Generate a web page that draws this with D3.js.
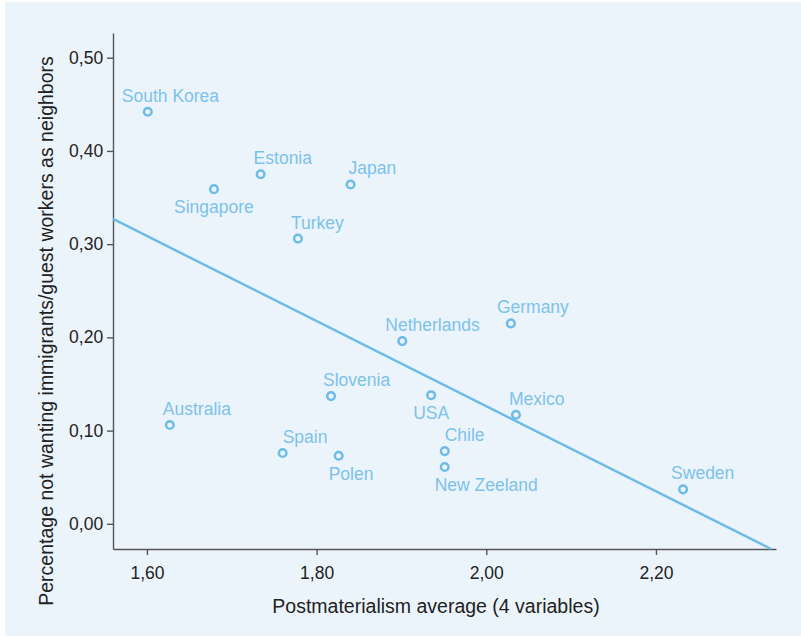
<!DOCTYPE html>
<html>
<head>
<meta charset="utf-8">
<script src="https://cdn.jsdelivr.net/npm/d3@7"></script>
<style>
  body { margin: 0; background: #fff; }
  svg text { font-family: "Liberation Sans", Arial, sans-serif; }
</style>
</head>
<body>
<div id="scatter"></div>
<script>
// data
var countries = ["South Korea", "Singapore", "Estonia", "Japan", "Turkey", "Netherlands", "Germany",
  "Slovenia", "USA", "Mexico", "Australia", "Spain", "Polen", "Chile", "New Zeeland", "Sweden"];
var postmat = [1.601, 1.679, 1.734, 1.840, 1.778, 1.901, 2.029,
  1.817, 1.935, 2.035, 1.627, 1.760, 1.826, 1.951, 1.951, 2.232];
var notWanting = [0.442, 0.359, 0.375, 0.364, 0.306, 0.196, 0.215,
  0.137, 0.138, 0.117, 0.106, 0.076, 0.073, 0.078, 0.061, 0.037];
var xTicks = [1.6, 1.8, 2.0, 2.2];
var yTicks = [0, 0.1, 0.2, 0.3, 0.4, 0.5];
var fitIntercept = 1.039;
var fitSlope = -0.4564;

// label placement (start offset from point, above or below)
var labelDx = [-26, -40, -7, -2, -7, -17, -14, -8, -18, -7, -7, 0, -10, 0, -10, -12];
var labelBelow = [false, true, false, false, false, false, false,
  false, true, false, false, false, true, false, true, false];

var svgWidth = 801;
var svgHeight = 637;

var margin = { top: 33, right: 25, bottom: 88, left: 113 };
var width = svgWidth - margin.left - margin.right;
var height = svgHeight - margin.top - margin.bottom;

var svg = d3.select("#scatter")
  .append("svg")
  .attr("width", svgWidth)
  .attr("height", svgHeight);

svg.append("rect")
  .attr("x", 5)
  .attr("y", 2)
  .attr("width", svgWidth - 5)
  .attr("height", svgHeight - 3)
  .attr("fill", "#ecf4fb");

var chartGroup = svg.append("g")
  .attr("transform", `translate(${margin.left}, ${margin.top})`);

var xScale = d3.scaleLinear().domain([1.56, 2.3415]).range([0, width]);
var yScale = d3.scaleLinear().domain([-0.027, 0.5265]).range([height, 0]);

var fmt = d => d.toFixed(2).replace(".", ",");

var xAxis = chartGroup.append("g")
  .attr("transform", `translate(0, ${height})`)
  .call(d3.axisBottom(xScale).tickValues(xTicks).tickFormat(fmt).tickSize(6).tickSizeOuter(0));

var yAxis = chartGroup.append("g")
  .call(d3.axisLeft(yScale).tickValues(yTicks).tickFormat(fmt).tickSize(6).tickSizeOuter(0));

[xAxis, yAxis].forEach(function(ax) {
  ax.selectAll("path, line").attr("stroke", "#555").attr("stroke-width", 1.4);
  ax.selectAll("text")
    .attr("fill", "#222")
    .style("font-size", "17.5px")
    .style("font-family", "'Liberation Sans', Arial, sans-serif");
});
xAxis.selectAll("text").attr("dy", "1.2em");
yAxis.selectAll("text").attr("dx", "-0.05em");

// regression line
var x0 = xScale.domain()[0];
var x1 = (yScale.domain()[0] - fitIntercept) / fitSlope;
chartGroup.append("line")
  .attr("x1", xScale(x0))
  .attr("y1", yScale(fitIntercept + fitSlope * x0))
  .attr("x2", xScale(x1))
  .attr("y2", yScale(fitIntercept + fitSlope * x1))
  .attr("stroke", "#6dbbe8")
  .attr("stroke-width", 2.5);

var pts = countries.map((c, i) => ({ name: c, x: postmat[i], y: notWanting[i], dx: labelDx[i], below: labelBelow[i] }));

chartGroup.selectAll("circle")
  .data(pts)
  .enter()
  .append("circle")
  .attr("cx", d => xScale(d.x))
  .attr("cy", d => yScale(d.y))
  .attr("r", 3.8)
  .attr("fill", "#ecf4fb")
  .attr("stroke", "#6dbbe8")
  .attr("stroke-width", 2.5);

chartGroup.selectAll(".label")
  .data(pts)
  .enter()
  .append("text")
  .attr("class", "label")
  .attr("x", d => xScale(d.x) + d.dx)
  .attr("y", d => yScale(d.y) + (d.below ? 24 : -10))
  .attr("fill", "#7cc2ea")
  .style("font-size", "17.5px")
  .text(d => d.name);

// axis titles
svg.append("text")
  .attr("x", 436)
  .attr("y", 613)
  .attr("text-anchor", "middle")
  .attr("fill", "#222")
  .style("font-size", "19.5px")
  .text("Postmaterialism average (4 variables)");

svg.append("text")
  .attr("transform", "rotate(-90)")
  .attr("x", -331)
  .attr("y", 53)
  .attr("text-anchor", "middle")
  .attr("fill", "#222")
  .style("font-size", "19.5px")
  .text("Percentage not wanting immigrants/guest workers as neighbors");
</script>
</body>
</html>
